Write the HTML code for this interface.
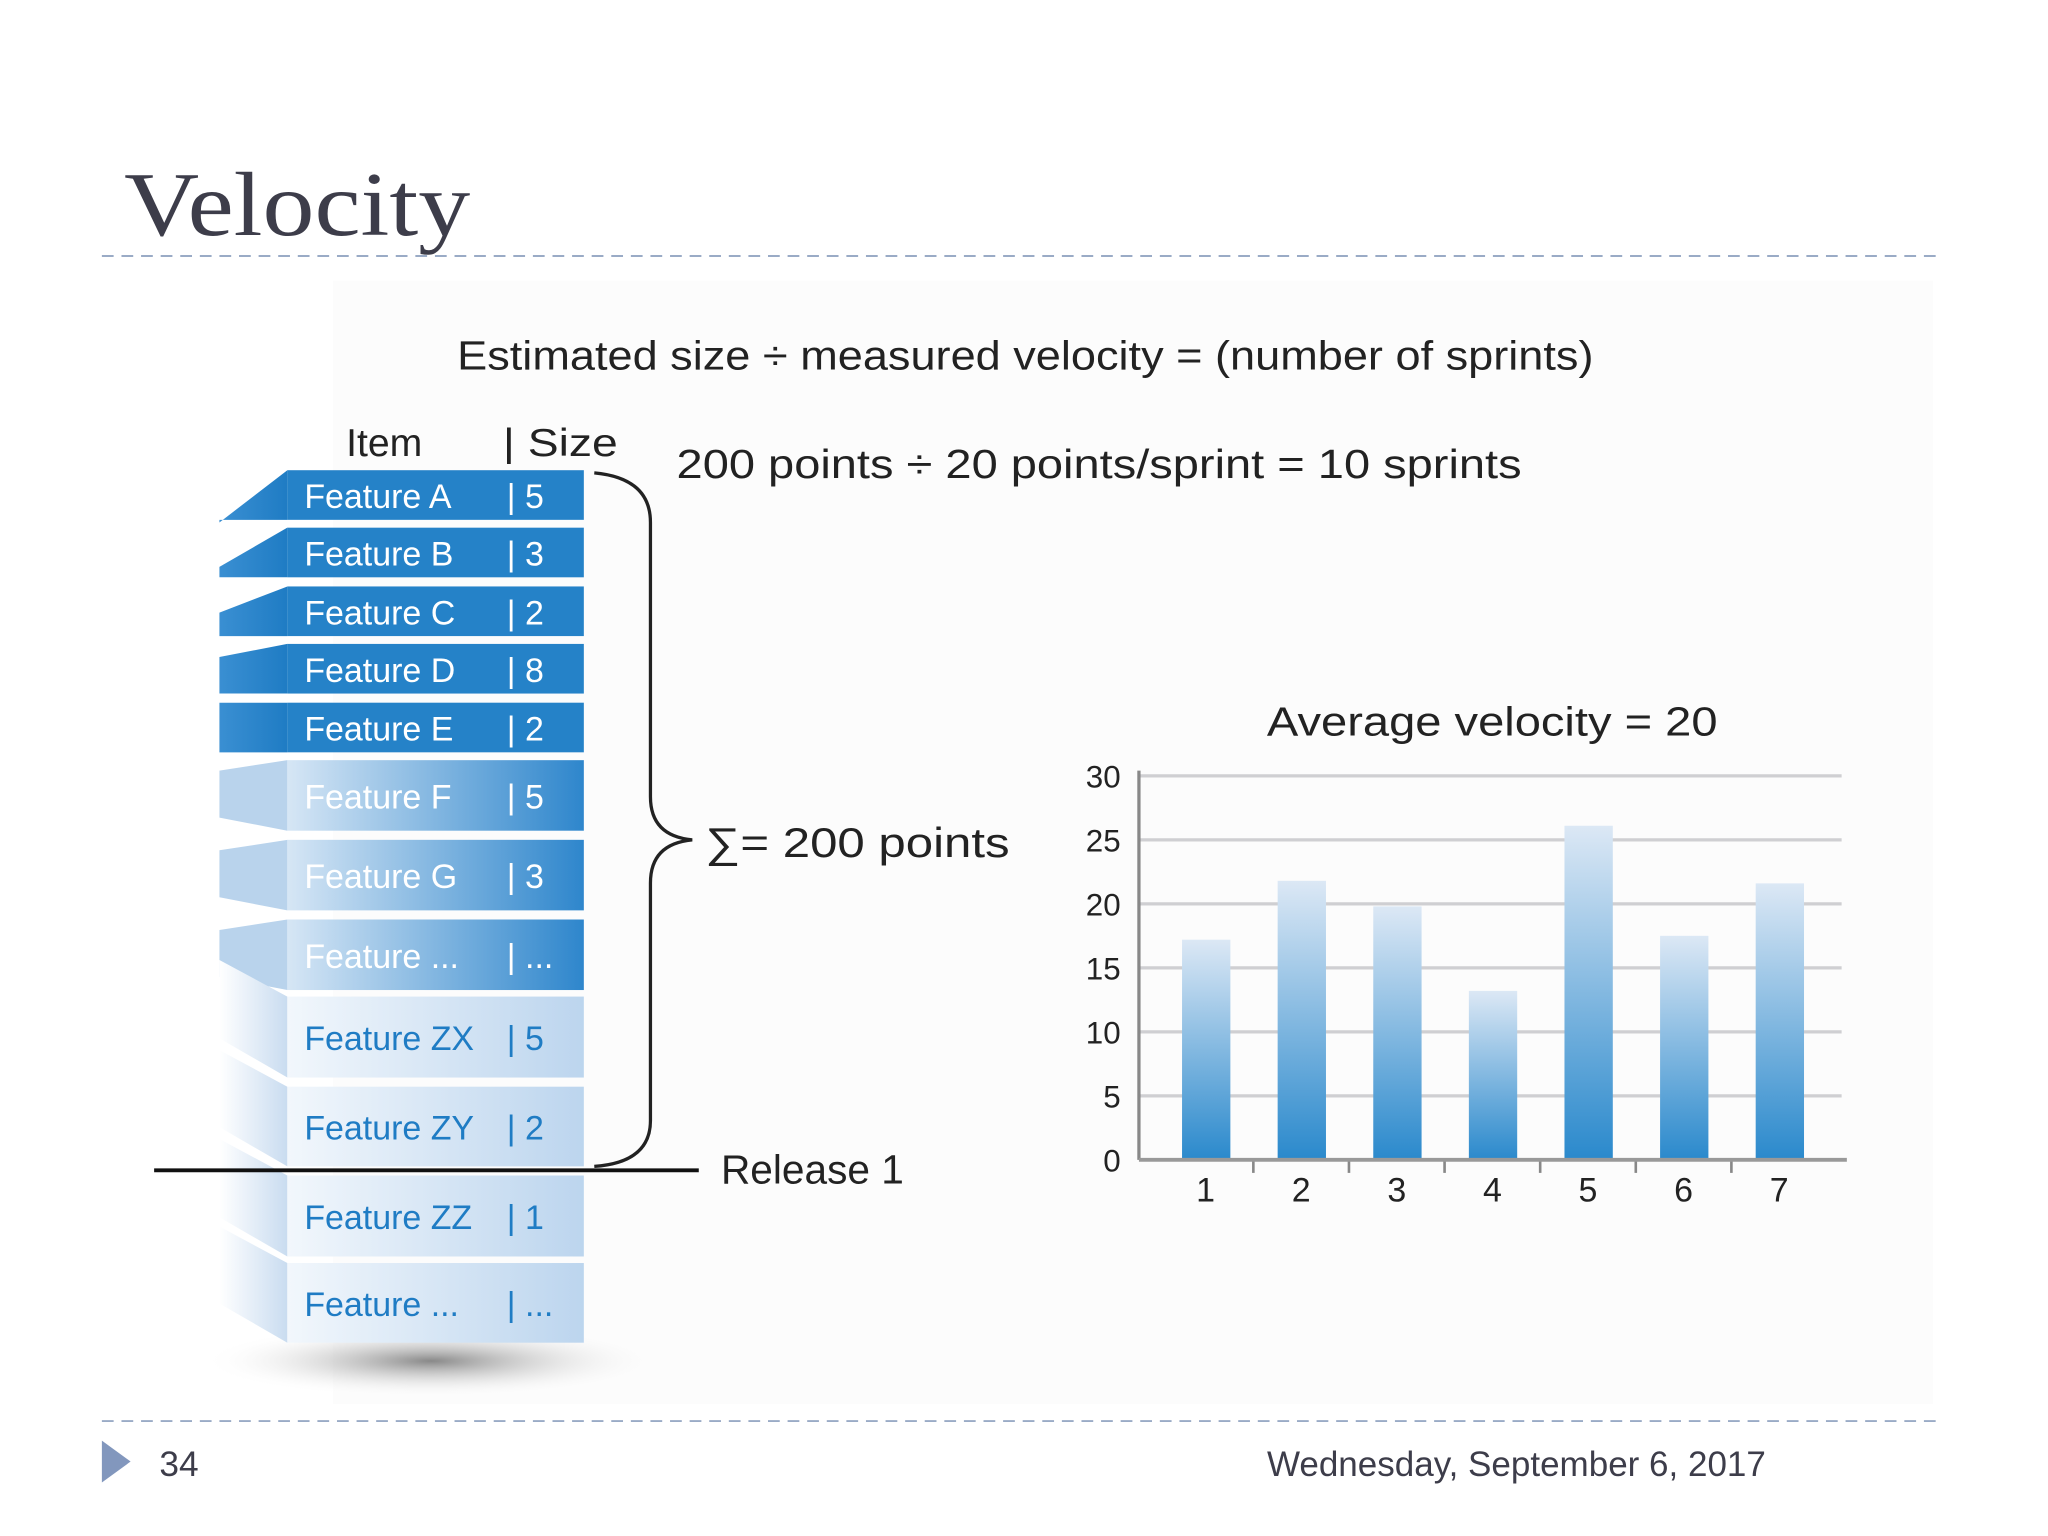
<!DOCTYPE html>
<html><head><meta charset="utf-8"><style>
html,body{margin:0;padding:0;background:#fff;}
svg{display:block;}
.hand{font-family:"Liberation Sans",sans-serif;}
</style></head><body>
<svg width="2048" height="1536" viewBox="0 0 1568 1176" xmlns="http://www.w3.org/2000/svg">
<defs>
<linearGradient id="barg" x1="0" y1="0" x2="0" y2="1"><stop offset="0" stop-color="#dce8f5"/><stop offset="1" stop-color="#2a89cc"/></linearGradient>
<linearGradient id="sideDark" x1="0" y1="0" x2="1" y2="0"><stop offset="0" stop-color="#3a8fd2"/><stop offset="1" stop-color="#1f7cc4"/></linearGradient>
<linearGradient id="frontMid" x1="0" y1="0" x2="1" y2="0"><stop offset="0" stop-color="#d6e6f5"/><stop offset="1" stop-color="#2e86cc"/></linearGradient>
<linearGradient id="frontLight" x1="0" y1="0" x2="1" y2="0"><stop offset="0" stop-color="#f2f7fc"/><stop offset="1" stop-color="#bcd5ee"/></linearGradient>
<linearGradient id="sideLight" x1="0" y1="0" x2="1" y2="0"><stop offset="0" stop-color="#ffffff"/><stop offset="1" stop-color="#c9dcf0"/></linearGradient>
<radialGradient id="shadow" cx="0.5" cy="0.5" r="0.5"><stop offset="0" stop-color="#888"/><stop offset="1" stop-color="#fff" stop-opacity="0"/></radialGradient>
</defs>
<rect x="255" y="215" width="1225" height="860" fill="#fcfcfc"/>
<text x="95" y="180" font-family="Liberation Serif,serif" font-size="70" fill="#3d3d4a" textLength="265" lengthAdjust="spacingAndGlyphs">Velocity</text>
<line x1="78" y1="196" x2="1488" y2="196" stroke="#9aabc6" stroke-width="1.5" stroke-dasharray="9,6"/>
<line x1="78" y1="1088" x2="1488" y2="1088" stroke="#9aabc6" stroke-width="1.5" stroke-dasharray="9,6"/>
<polygon points="78,1103 100,1119 78,1135" fill="#8297bd"/>
<text x="122" y="1130" font-family="Liberation Sans,sans-serif" font-size="27" fill="#3d3d4a">34</text>
<text x="970" y="1130" font-family="Liberation Sans,sans-serif" font-size="27" fill="#3d3d4a" textLength="382" lengthAdjust="spacingAndGlyphs">Wednesday, September 6, 2017</text>

<text x="350" y="283" class="hand" font-size="31" fill="#222" textLength="870" lengthAdjust="spacingAndGlyphs">Estimated size ÷ measured velocity = (number of sprints)</text>
<text x="518" y="366" class="hand" font-size="31" fill="#222" textLength="647" lengthAdjust="spacingAndGlyphs">200 points ÷ 20 points/sprint = 10 sprints</text>
<text x="265" y="349" class="hand" font-size="30" fill="#222">Item</text>
<text x="385" y="349" class="hand" font-size="30" fill="#222" textLength="88" lengthAdjust="spacingAndGlyphs">| Size</text>

<ellipse cx="330" cy="1042" rx="175" ry="28" fill="url(#shadow)"/>
<g id="stack"></g>

<path d="M455,362 Q498,366 498,400 L498,610 Q498,640 530,643 Q498,646 498,676 L498,858 Q498,890 455,893" fill="none" stroke="#222" stroke-width="2.5"/>
<text x="540" y="656" class="hand" font-size="32" fill="#222" textLength="233" lengthAdjust="spacingAndGlyphs">∑= 200 points</text>
<line x1="118" y1="896" x2="535" y2="896" stroke="#111" stroke-width="3"/>
<text x="552" y="906" class="hand" font-size="31" fill="#222" textLength="140" lengthAdjust="spacingAndGlyphs">Release 1</text>

<text x="970" y="563" class="hand" font-size="31" fill="#222" textLength="345" lengthAdjust="spacingAndGlyphs">Average velocity = 20</text>
<g id="chart"></g>
</svg>
<script>
const sprints = ['1','2','3','4','5','6','7'];
const velocities = [17.2, 21.8, 19.8, 13.2, 26.1, 17.5, 21.6];
const yTicks = [0,5,10,15,20,25,30];
const features = ['Feature A','Feature B','Feature C','Feature D','Feature E','Feature F','Feature G','Feature ...','Feature ZX','Feature ZY','Feature ZZ','Feature ...'];
const sizes = ['5','3','2','8','2','5','3','...','5','2','1','...'];

const NS='http://www.w3.org/2000/svg';
function mk(tag,attrs,parent){const e=document.createElementNS(NS,tag);for(const k in attrs)e.setAttribute(k,attrs[k]);parent.appendChild(e);return e;}

// chart
const chart=document.getElementById('chart');
const x0=872,x1=1410,yb=888,yt=594,yMax=30;
const y=v=>yb-(v/yMax)*(yb-yt);
const band=73.2;
const xc=i=>x0+51+band*i;
yTicks.forEach(t=>{
  if(t>0){const g=mk('line',{x1:x0,y1:y(t),x2:x1,y2:y(t),stroke:'#cfcfd2','stroke-width':2.5},chart);
  
  }
  const l=mk('text',{x:858,y:y(t)+9,'text-anchor':'end','font-size':24,fill:'#222',class:'hand'},chart);
  l.textContent=t;
  
  
});
velocities.forEach((v,i)=>{
  const r=mk('rect',{x:xc(i)-18,y:y(v),width:37,height:yb-y(v),fill:'url(#barg)'},chart);
  
  
  const l=mk('text',{x:xc(i),y:920,'text-anchor':'middle','font-size':26,fill:'#222',class:'hand'},chart);
  l.textContent=sprints[i];
  
  
  if(i>0){const tk=mk('line',{x1:xc(i)-band/2,y1:yb,x2:xc(i)-band/2,y2:yb+10,stroke:'#888','stroke-width':2},chart);
  
  }
});
const ax=mk('line',{x1:x0,y1:yt-4,x2:x0,y2:yb,stroke:'#888','stroke-width':2.5},chart);


const bx=mk('line',{x1:x0,y1:yb,x2:x1+4,y2:yb,stroke:'#999','stroke-width':3},chart);



// stack
const stack=document.getElementById('stack');
const rows=[[360,398],[404,442],[449,487],[493,531],[538,576],[582,636],[643,697],[704,758],[763,825],[832,893],[900,962],[967,1028]];
rows.forEach((r,i)=>{
  const dark=i<5, mid=i>=5&&i<8;
  const front=dark?'#2582c8':(mid?'url(#frontMid)':'url(#frontLight)');
  const side=dark?'url(#sideDark)':(mid?'#b9d3ec':'url(#sideLight)');
  const off=dark?Math.max(0,(4-i))*10:(i<8?-12:-48);
  const s=mk('polygon',{points:`168,${r[0]+off+ (dark?0:20)} 220,${r[0]} 220,${r[1]} 168,${r[1]+(dark?0:-10)+ (i>=8?-20:0)}`,fill:side},stack);
  
  
  const f=mk('rect',{x:220,y:r[0],width:227,height:r[1]-r[0],fill:front},stack);
  
  
  const cy=(r[0]+r[1])/2+10;
  const col=i<8?'#ffffff':'#1f7cc4';
  const t=mk('text',{x:233,y:cy,'font-size':26,fill:col,class:'hand'},stack);
  t.textContent=features[i];
  
  
  const t2=mk('text',{x:388,y:cy,'font-size':26,fill:col,class:'hand'},stack);
  t2.textContent='| '+sizes[i];
  
  
});
</script>
</body></html>
